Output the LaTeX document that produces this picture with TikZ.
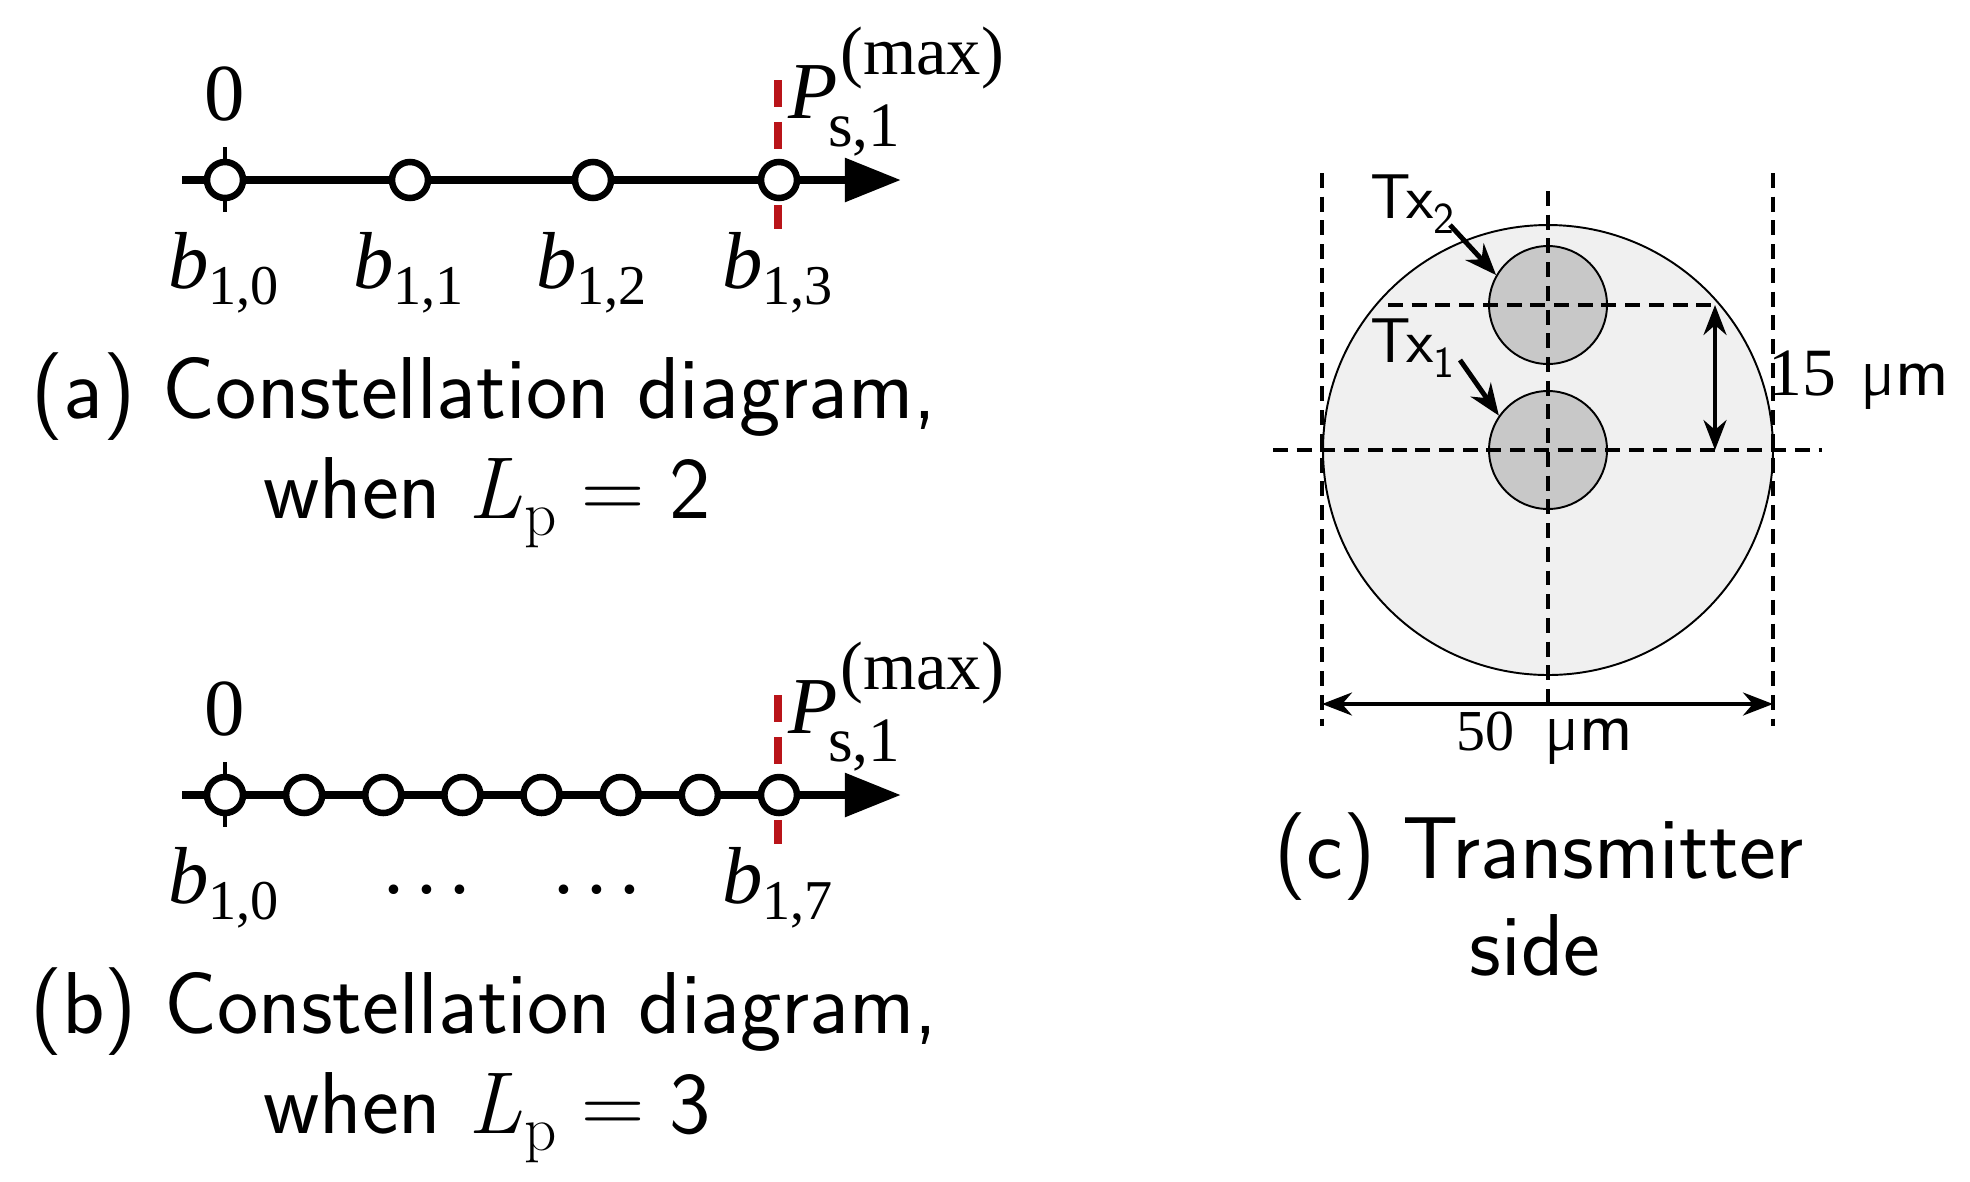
\documentclass[tikz,border=0pt]{standalone}
\usepackage{fontspec}
\newfontfamily\tms{Liberation Serif}
\usetikzlibrary{arrows.meta}
\definecolor{dred}{RGB}{185,20,25}
\definecolor{outerfill}{RGB}{240,240,240}
\definecolor{innerfill}{RGB}{200,200,200}
\newcommand\capfont{\sffamily\fontsize{50}{60}\selectfont}
\newcommand\lblfont{\tms\fontsize{46}{55}\selectfont}
\newcommand\subfnt{\fontsize{32}{32}\selectfont}
\newcommand\pfnt{\fontsize{36}{36}\selectfont}
\newcommand\supfnt{\fontsize{39}{39}\selectfont}
\newcommand\sublbl[2]{{\lblfont\itshape #1\upshape\raisebox{-9.6pt}{\subfnt #2}}}
\newcommand\Plbl{{\lblfont\itshape P\upshape\rlap{\kern1.5pt\raisebox{25pt}{\supfnt(max)}}\kern-5.4pt\raisebox{-16.4pt}{\pfnt s,1}}}
\newcommand\Lp{{\rmfamily\itshape L}\kern1pt\raisebox{-0.2em}{\rmfamily\fontsize{36}{36}\selectfont p}\hspace{0.28em}{\rmfamily =}\hspace{0.28em}}
\newcommand\dotsthree{\textperiodcentered\hspace{3.7pt}\textperiodcentered\hspace{3.7pt}\textperiodcentered}
\begin{document}
\begin{tikzpicture}[x=0.02cm,y=-0.02cm,
  axis/.style={line width=5pt,-{Triangle[length=32pt,width=24pt]}},
  cpt/.style={circle,draw,fill=white,line width=3.7pt,minimum size=0.72cm,inner sep=0pt},
  tick/.style={line width=2.3pt},
  reddash/.style={dred,line width=4pt,dash pattern=on 15.3pt off 8.5pt},
  lbl/.style={anchor=base west,inner sep=0pt},
  grid/.style={line width=2.3pt,dash pattern=on 8.5pt off 5pt},
  dim/.style={line width=2.6pt,{Stealth[length=17pt,width=13pt]}-{Stealth[length=17pt,width=13pt]}},
  ptr/.style={line width=2.8pt,-{Stealth[length=18pt,width=14pt]}}]
\useasboundingbox (0,0) rectangle (1970,1181);

% ---------- panel (a)
\coordinate (aS) at (182,180);
\coordinate (aE) at (901,180);
\draw[reddash] (778,80) -- (778,229);
\draw[tick] (225,147) -- (225,212);
\draw[axis] (aS) -- (aE);
\foreach \i/\x in {0/225,1/410,2/593,3/779}{
  \node[cpt] (a\i) at (\x,180) {};
  \node[lbl] (al\i) at (\x-57,288) {\sublbl{b}{1,\i}};
}
\node (a0top) at (225,94) {\lblfont 0};
\node[lbl] (aP) at (788,118) {\Plbl};
\node[anchor=base,inner sep=0pt] (capa1) at (484,418) {\capfont (a) Constellation diagram,};
\node[anchor=base,inner sep=0pt] (capa2) at (487,518) {\capfont when \Lp 2};

% ---------- panel (b)
\coordinate (bS) at (182,795);
\coordinate (bE) at (901,795);
\draw[reddash] (778,695) -- (778,844);
\draw[tick] (225,762) -- (225,827);
\draw[axis] (bS) -- (bE);
\foreach \i in {0,...,7}{
  \node[cpt] (b\i) at ({225+79.14*\i},795) {};
}
\node[lbl] (bl0) at (168,903) {\sublbl{b}{1,0}};
\node[lbl] (bl7) at (722,903) {\sublbl{b}{1,7}};
\node (bd1) at (427,901) {\lblfont \dotsthree};
\node (bd2) at (597,901) {\lblfont \dotsthree};
\node (b0top) at (225,709) {\lblfont 0};
\node[lbl] (bP) at (788,733) {\Plbl};
\node[anchor=base,inner sep=0pt] (capb1) at (484,1033) {\capfont (b) Constellation diagram,};
\node[anchor=base,inner sep=0pt] (capb2) at (487,1133) {\capfont when \Lp 3};

% ---------- panel (c)
\coordinate (cC) at (1548,450);
\fill[outerfill,draw=black,line width=1.1pt] (cC) circle[radius=225];
\node[circle,fill=innerfill,draw=black,line width=1.1pt,minimum size=2.36cm,inner sep=0pt] (tx2) at (1548,305) {};
\node[circle,fill=innerfill,draw=black,line width=1.1pt,minimum size=2.36cm,inner sep=0pt] (tx1) at (1548,450) {};
\draw[grid] (1322,173) -- (1322,726);
\draw[grid] (1773,173) -- (1773,726);
\draw[grid] (1548,191) -- (1548,710);
\draw[grid] (1388,305) -- (1718,305);
\draw[grid] (1273,450) -- (1822,450);
\coordinate (v1) at (1715,305);
\coordinate (v2) at (1715,450);
\draw[dim] (v1) -- (v2);
\coordinate (h1) at (1322,704);
\coordinate (h2) at (1773,704);
\draw[dim] (h1) -- (h2);
\node[lbl] (d15) at (1768,395) {{\tms\fontsize{38.5}{40}\selectfont 15}\hspace{14pt}{\sffamily\fontsize{41}{42}\selectfont µm}};
\node[lbl] (d50) at (1456,750) {{\tms\fontsize{33}{36}\selectfont 50}\hspace{17pt}{\sffamily\fontsize{41}{42}\selectfont µm}};
\node (tx2l) at (1413,204) {\sffamily\fontsize{36}{36}\selectfont Tx\textsubscript{2}};
\node (tx1l) at (1413,348) {\sffamily\fontsize{36}{36}\selectfont Tx\textsubscript{1}};
\coordinate (p2) at (1450,225);
\coordinate (p1) at (1460,360);
\draw[ptr] (p2) -- (tx2.150);
\draw[ptr] (p1) -- (tx1.145);
\node[anchor=base,inner sep=0pt] (capc1) at (1539,878) {\capfont (c) Transmitter};
\node[anchor=base,inner sep=0pt] (capc2) at (1535,975) {\capfont side};
\end{tikzpicture}
\end{document}
